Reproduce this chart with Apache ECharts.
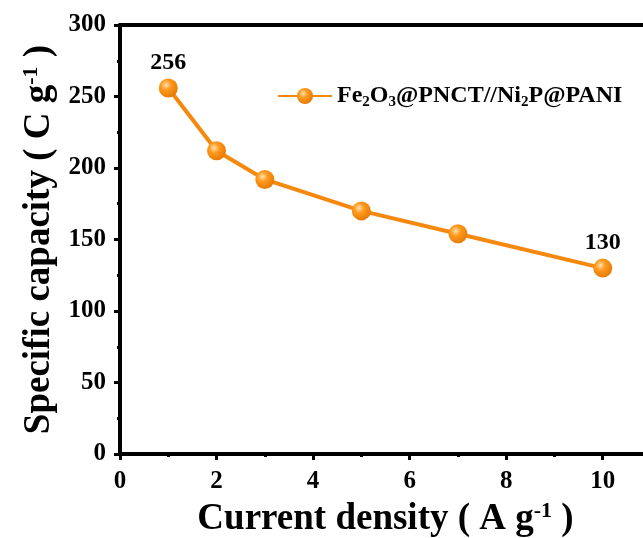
<!DOCTYPE html>
<html><head><meta charset="utf-8">
<script src="https://cdn.jsdelivr.net/npm/echarts@6/dist/echarts.min.js"></script>
<style>html,body{margin:0;padding:0;background:#fff}#c{width:643px;height:538px}</style>
</head><body><div id="c"></div>
<script>
const xValues = [1, 2, 3, 5, 7, 10];
const yValues = [256, 212, 192, 170, 154, 130];
const labeledIdx = [0, 5];
const seriesName = 'Fe2O3@PNCT//Ni2P@PANI';

const font = '"Liberation Serif", "Times New Roman", serif';
const orange = '#F5890E';
const ball = {type:'radial', x:0.38, y:0.35, r:0.75, colorStops:[
  {offset:0, color:'#FFE2B0'},{offset:0.35, color:'#FF9A1E'},{offset:1, color:'#E07400'}]};

const chart = echarts.init(document.getElementById('c'));
chart.setOption({
  animation:false,
  backgroundColor:'#fff',
  grid:{left:120, right:-8, top:25, bottom:84, containLabel:false, outerBoundsMode:'none'},
  legend:{
    left:272, top:79, itemWidth:54, itemHeight:20, itemGap:14,
    data:[seriesName],
    formatter: () => '{n|Fe}{s|2}{n|O}{s|3}{n|@PNCT//Ni}{s|2}{n|P@PANI}',
    textStyle:{rich:{
      n:{fontFamily:font, fontWeight:'bold', fontSize:24, color:'#000'},
      s:{fontFamily:font, fontWeight:'bold', fontSize:15, color:'#000', verticalAlign:'bottom', padding:[12,0,0,0]}
    }}
  },
  xAxis:[{
    type:'value', min:0, max:11, interval:2,
    axisLine:{show:true, lineStyle:{color:'#000', width:4}},
    axisTick:{show:true, inside:false, length:6, lineStyle:{color:'#000', width:3}},
    minorTick:{show:true, splitNumber:2, length:3, lineStyle:{color:'#000', width:3}},
    splitLine:{show:false},
    axisLabel:{fontFamily:font, fontWeight:'bold', fontSize:25, color:'#000', margin:15,
      formatter: v => (v % 2 === 0 ? String(v) : '')},
    name:'{n|Current density ( A g}{s|-1}{n| )}',
    nameLocation:'middle', nameGap:46,
    nameTextStyle:{rich:{
      n:{fontFamily:font, fontWeight:'bold', fontSize:37, color:'#000'},
      s:{fontFamily:font, fontWeight:'bold', fontSize:22, color:'#000', verticalAlign:'top', padding:[0,0,16,0]}
    }}
  },{
    type:'value', min:0, max:11, position:'top',
    axisLine:{show:true, lineStyle:{color:'#000', width:4}},
    axisTick:{show:false}, axisLabel:{show:false}, splitLine:{show:false}
  }],
  yAxis:{
    type:'value', min:0, max:300, interval:50,
    axisLine:{show:true, lineStyle:{color:'#000', width:4}},
    axisTick:{show:true, inside:false, length:6, lineStyle:{color:'#000', width:3}},
    minorTick:{show:true, splitNumber:2, length:3, lineStyle:{color:'#000', width:3}},
    splitLine:{show:false},
    axisLabel:{fontFamily:font, fontWeight:'bold', fontSize:25, color:'#000', margin:14},
    name:'{n|Specific capacity ( C g}{s|-1}{n| )}',
    nameLocation:'middle', nameGap:62, nameRotate:90,
    nameTextStyle:{rich:{
      n:{fontFamily:font, fontWeight:'bold', fontSize:37, color:'#000'},
      s:{fontFamily:font, fontWeight:'bold', fontSize:22, color:'#000', verticalAlign:'top', padding:[0,0,16,0]}
    }}
  },
  series:[{
    name:seriesName, type:'line',
    data: xValues.map((x,i)=>[x, yValues[i]]),
    symbol:'circle', symbolSize:19,
    lineStyle:{color:orange, width:4},
    itemStyle:{color:ball, borderWidth:0},
    label:{show:true, position:'top', distance:4,
      fontFamily:font, fontWeight:'bold', fontSize:24, color:'#000',
      formatter: p => (labeledIdx.includes(p.dataIndex) ? String(p.value[1]) : '')}
  }]
});
</script></body></html>
